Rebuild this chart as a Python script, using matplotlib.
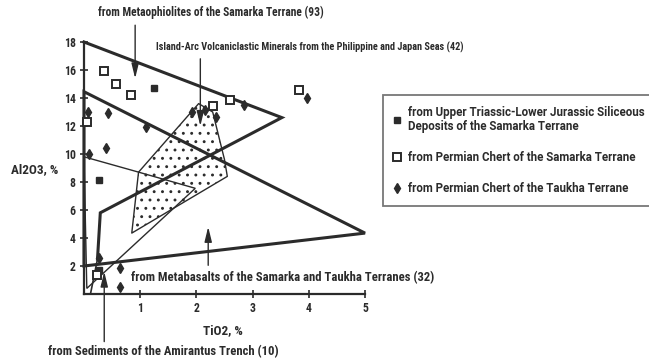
import matplotlib
matplotlib.use("Agg")
import matplotlib.pyplot as plt
from matplotlib.patches import Polygon

plt.rcParams['font.family'] = ['Roboto Condensed', 'Archivo Narrow', 'PT Sans Narrow',
                               'Encode Sans Condensed', 'DejaVu Sans']
plt.rcParams['font.weight'] = 'bold'
plt.rcParams['hatch.color'] = '#b0b0b0'
plt.rcParams['hatch.linewidth'] = 0.9

INK = '#2b2b2b'

# ---- field outlines (TiO2 %, Al2O3 %) ----
ophiolite_x = [0.0, 3.52, 0.29, 0.24]
ophiolite_y = [18.0, 12.6, 5.8, 2.5]
ophiolite_tail_x = [0.24, 0.12]
ophiolite_tail_y = [2.5, 0.1]

basalt_x = [0.0, 5.0, 0.0]
basalt_y = [14.45, 4.35, 2.0]

arc_x = [2.04, 0.97, 0.85, 2.55, 2.5, 2.29]
arc_y = [13.6, 8.7, 4.35, 8.4, 9.6, 13.0]

amirantus_x = [0.0, 0.94, 1.98, 0.05]
amirantus_y = [9.8, 8.74, 7.55, 0.4]

# ---- sample points ----
triassic_x = [1.25, 0.26, 0.27]
triassic_y = [14.7, 8.14, 1.7]

samarka_chert_x = [0.36, 0.57, 0.84, 0.06, 2.29, 2.6, 3.83, 0.23]
samarka_chert_y = [15.9, 15.0, 14.2, 12.3, 13.4, 13.86, 14.57, 1.36]

taukha_chert_x = [0.08, 0.42, 1.1, 0.4, 0.09, 1.92, 2.16, 2.34, 2.85, 3.96, 0.27, 0.64, 0.64]
taukha_chert_y = [13.0, 12.95, 11.95, 10.45, 9.98, 13.0, 13.14, 12.67, 13.5, 14.0, 2.55, 1.83, 0.48]

x_ticks = [1, 2, 3, 4, 5]
y_ticks = [2, 4, 6, 8, 10, 12, 14, 16, 18]

legend_labels = ['from Upper Triassic-Lower Jurassic Siliceous\nDeposits of the Samarka Terrane',
                 'from Permian Chert of the Samarka Terrane',
                 'from Permian Chert of the Taukha Terrane']

fig = plt.figure(figsize=(6.49, 3.60), dpi=100)
ax = fig.add_axes([84 / 649, 66 / 360, 281 / 649, 252 / 360])
ax.set_xlim(0, 5)
ax.set_ylim(0, 18)
for s in ('top', 'right'):
    ax.spines[s].set_visible(False)
for s in ('left', 'bottom'):
    ax.spines[s].set_linewidth(1.6)
    ax.spines[s].set_color(INK)
ax.set_xticks(x_ticks)
ax.set_yticks(y_ticks)
ax.tick_params(direction='inout', length=6, width=1.2, color=INK,
               labelsize=8.5, labelcolor=INK, pad=3)
for lab in ax.get_xticklabels() + ax.get_yticklabels():
    lab.set_fontweight('bold')

# stippled island-arc field
ax.add_patch(Polygon(list(zip(arc_x, arc_y)), closed=True, facecolor='white',
                     edgecolor=INK, hatch='..', linewidth=1.0, zorder=1,
                     joinstyle='round'))
# Amirantus Trench sediments
ax.add_patch(Polygon(list(zip(amirantus_x, amirantus_y)), closed=True,
                     fill=False, edgecolor=INK, linewidth=1.0, zorder=2))
# metaophiolites
ax.plot(ophiolite_x, ophiolite_y, color=INK, lw=2.2, zorder=3,
        solid_joinstyle='miter', clip_on=False)
ax.plot(ophiolite_tail_x, ophiolite_tail_y, color=INK, lw=1.2, zorder=3)
# metabasalts
ax.add_patch(Polygon(list(zip(basalt_x, basalt_y)), closed=True, fill=False,
                     edgecolor=INK, linewidth=2.2, zorder=3, clip_on=False))

h1, = ax.plot(triassic_x, triassic_y, ls='none', marker='s', ms=4,
              mfc=INK, mec=INK, zorder=5, clip_on=False)
h2, = ax.plot(samarka_chert_x, samarka_chert_y, ls='none', marker='s', ms=6,
              mfc='white', mec=INK, mew=1.4, zorder=5, clip_on=False)
h3, = ax.plot(taukha_chert_x, taukha_chert_y, ls='none', marker='d', ms=5,
              mfc=INK, mec=INK, zorder=5, clip_on=False)

ax.text(-0.46, 8.9, 'Al2O3, %', ha='right', va='center', fontsize=9.5,
        fontweight='bold', color=INK)
ax.text(2.47, -2.6, 'TiO2, %', ha='center', va='center', fontsize=9.5,
        fontweight='bold', color=INK)

arrow = dict(arrowstyle='-|>,head_length=0.9,head_width=0.22', color=INK,
             lw=1.0, mutation_scale=10, shrinkA=0, shrinkB=0)
notes = [
    ('from Metaophiolites of the Samarka Terrane (93)', (0.91, 15.4), (0.91, 19.2), (2.25, 20.1), 'center', 8.3),
    ('Island-Arc Volcaniclastic Minerals from the Philippine and Japan Seas (42)',
     (2.07, 12.0), (2.07, 16.8), (1.28, 17.6), 'left', 7.4),
    ('from Metabasalts of the Samarka and Taukha Terranes (32)', (2.21, 4.8), (2.21, 2.05), (0.83, 1.15), 'left', 9.1),
    ('from Sediments of the Amirantus Trench (10)', (0.36, 1.6), (0.36, -3.4), (-0.64, -4.1), 'left', 9.1),
]
for txt, tip, tail, tpos, ha, size in notes:
    ax.annotate('', xy=tip, xytext=tail, arrowprops=arrow, annotation_clip=False)
    ax.text(tpos[0], tpos[1], txt, ha=ha, va='center', fontsize=size,
            fontweight='bold', color=INK, clip_on=False)

leg = fig.legend([h1, h2, h3], legend_labels,
                 loc='upper left', bbox_to_anchor=(383 / 649, 1 - 95 / 360),
                 prop={'family': ['Roboto', 'DejaVu Sans'], 'size': 8.3, 'weight': 'bold'},
                 frameon=True, fancybox=False, handlelength=0.6, handletextpad=0.6,
                 labelspacing=1.55, borderpad=0.95, borderaxespad=0)
leg.get_frame().set_edgecolor('#555555')
leg.get_frame().set_linewidth(1.3)
for t in leg.get_texts():
    t.set_color(INK)
    t.set_linespacing(1.1)

fig.savefig('out.png', dpi=100)
